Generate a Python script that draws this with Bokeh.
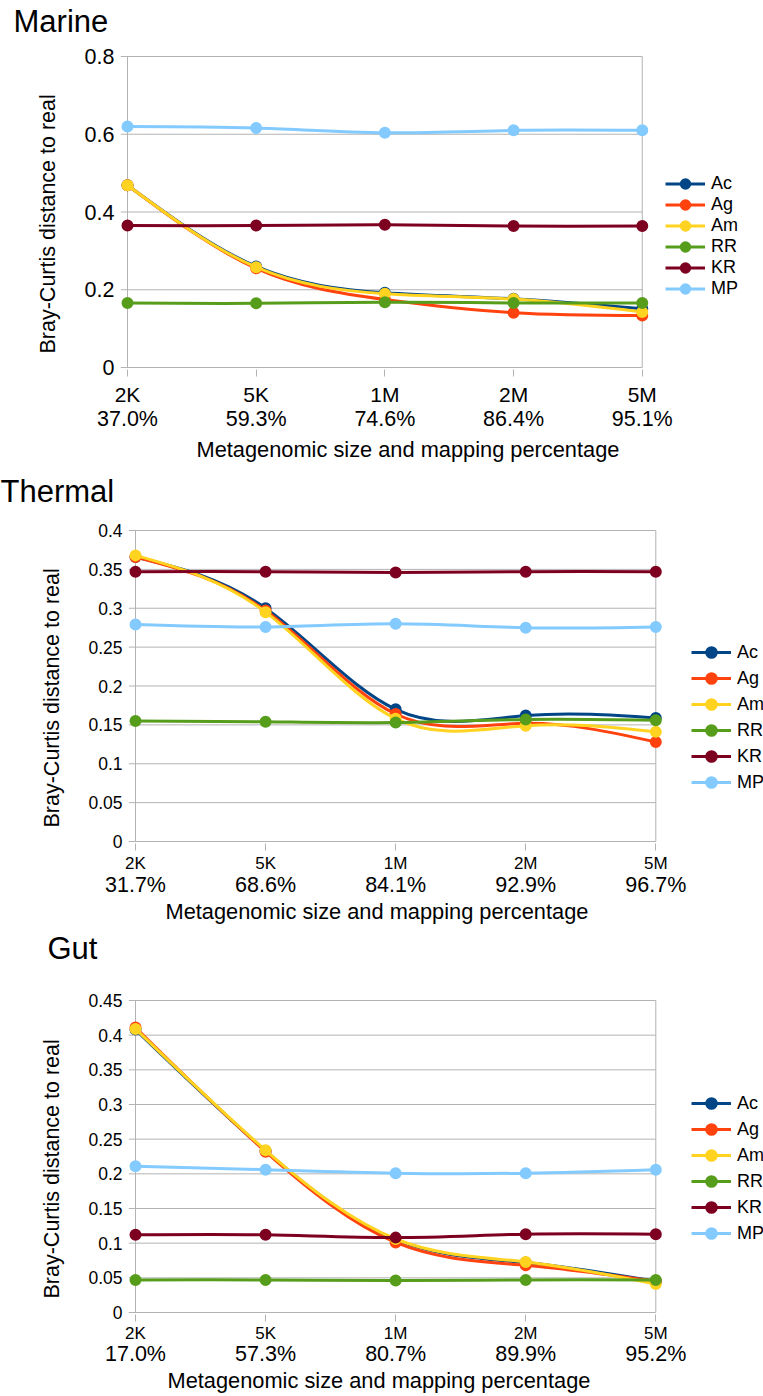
import numpy as np
from bokeh.embed import file_html
from bokeh.layouts import column
from bokeh.models import (FixedTicker, Legend, LegendItem, LinearAxis,
                          NumeralTickFormatter, Range1d, Title)
from bokeh.plotting import figure
from bokeh.resources import INLINE

FONT = "Liberation Sans"
GRID = "#b3b3b3"

# ---- data -------------------------------------------------------------
sizes = ["2K", "5K", "1M", "2M", "5M"]
methods = ["Ac", "Ag", "Am", "RR", "KR", "MP"]
method_colors = ["#004586", "#ff420e", "#ffd320", "#579d1c", "#7e0021", "#83caff"]

marine_mapping = ["37.0%", "59.3%", "74.6%", "86.4%", "95.1%"]
marine_ac = [0.469, 0.260, 0.192, 0.177, 0.151]
marine_ag = [0.469, 0.255, 0.175, 0.141, 0.134]
marine_am = [0.469, 0.258, 0.190, 0.176, 0.143]
marine_rr = [0.166, 0.165, 0.168, 0.166, 0.166]
marine_kr = [0.365, 0.365, 0.367, 0.364, 0.364]
marine_mp = [0.620, 0.616, 0.604, 0.610, 0.610]
marine_yticks = [0, 0.2, 0.4, 0.6, 0.8]

thermal_mapping = ["31.7%", "68.6%", "84.1%", "92.9%", "96.7%"]
thermal_ac = [0.366, 0.300, 0.170, 0.162, 0.159]
thermal_ag = [0.366, 0.297, 0.164, 0.152, 0.128]
thermal_am = [0.368, 0.295, 0.158, 0.149, 0.141]
thermal_rr = [0.155, 0.154, 0.153, 0.157, 0.156]
thermal_kr = [0.347, 0.347, 0.346, 0.347, 0.347]
thermal_mp = [0.279, 0.276, 0.280, 0.275, 0.276]
thermal_yticks = [0, 0.05, 0.1, 0.15, 0.2, 0.25, 0.3, 0.35, 0.4]

gut_mapping = ["17.0%", "57.3%", "80.7%", "89.9%", "95.2%"]
gut_ac = [0.408, 0.233, 0.105, 0.072, 0.045]
gut_ag = [0.411, 0.232, 0.101, 0.068, 0.045]
gut_am = [0.409, 0.234, 0.106, 0.073, 0.041]
gut_rr = [0.047, 0.047, 0.046, 0.047, 0.047]
gut_kr = [0.112, 0.112, 0.108, 0.113, 0.113]
gut_mp = [0.211, 0.206, 0.201, 0.201, 0.206]
gut_yticks = [0, 0.05, 0.1, 0.15, 0.2, 0.25, 0.3, 0.35, 0.4, 0.45]


def spline_segments(ys):
    """Natural cubic spline through the points, returned as Bezier segments."""
    y = np.asarray(ys, dtype=float)
    n = len(y)
    A = np.zeros((n, n))
    r = np.zeros(n)
    A[0, 0] = A[-1, -1] = 1.0
    for i in range(1, n - 1):
        A[i, i - 1], A[i, i], A[i, i + 1] = 1.0, 4.0, 1.0
        r[i] = 6.0 * (y[i + 1] - 2.0 * y[i] + y[i - 1])
    m = np.linalg.solve(A, r)
    x0 = np.arange(n - 1, dtype=float)
    x1 = x0 + 1.0
    dy = y[1:] - y[:-1]
    d0 = dy - (2.0 * m[:-1] + m[1:]) / 6.0
    d1 = dy + (m[:-1] + 2.0 * m[1:]) / 6.0
    return dict(x0=x0, y0=y[:-1], x1=x1, y1=y[1:],
                cx0=x0 + 1.0 / 3.0, cy0=y[:-1] + d0 / 3.0,
                cx1=x1 - 1.0 / 3.0, cy1=y[1:] - d1 / 3.0)


def make_panel(title, mapping, series, yticks, g):
    W, H = 763, g["height"]
    padx, pady = 7, 2
    n = len(sizes)
    last = n - 1
    ymax = yticks[-1]
    ux = (g["x_last"] - g["x_first"]) / last
    uy = (g["y_zero"] - g["y_top"]) / ymax

    # the plot area runs to the right edge so the key beside the chart is not clipped
    p = figure(width=W, height=H, output_backend="svg", toolbar_location=None,
               x_range=Range1d(-padx / ux, last + (W - g["x_last"]) / ux),
               y_range=Range1d(-pady / uy, ymax + pady / uy),
               x_axis_type=None, y_axis_type=None,
               min_border_left=round(g["x_first"] - padx),
               min_border_right=0,
               min_border_top=round(g["y_top"] - pady),
               min_border_bottom=round(H - g["y_zero"] - pady))
    p.frame_align = False
    p.outline_line_color = None
    p.background_fill_color = "white"
    p.border_fill_color = "white"

    # empty band between the heading and the plot area, then the heading
    gap = LinearAxis(ticker=FixedTicker(ticks=[last + 0.5]),
                     major_label_overrides={last + 0.5: ""},
                     axis_line_color=None, major_tick_line_color="white",
                     minor_tick_line_color=None, major_tick_in=0,
                     major_tick_out=g["title_gap"], minor_tick_in=0, minor_tick_out=0,
                     major_label_standoff=0, major_label_text_font_size="0px")
    p.add_layout(gap, "above")
    heading = Title(text=title, align="left", vertical_align="bottom",
                    offset=g["title_offset"], standoff=0, text_font=FONT,
                    text_font_size="31px", text_font_style="normal", text_color="#000000")
    p.add_layout(heading, "above")

    # y axis: tick labels, with its title set slightly below the middle
    yaxis = LinearAxis(ticker=FixedTicker(ticks=yticks),
                       formatter=NumeralTickFormatter(format="0.[00]"),
                       axis_line_color=None, major_tick_line_color=None,
                       minor_tick_line_color=None, major_tick_in=0, major_tick_out=0,
                       major_label_standoff=6)
    yaxis.major_label_text_font = FONT
    yaxis.major_label_text_font_size = g["ytick_size"]
    yaxis.major_label_text_color = "#000000"
    p.add_layout(yaxis, "left")
    ylabel = Title(text="Bray-Curtis distance to real", align="left",
                   vertical_align="bottom", offset=16, standoff=g["ylabel_standoff"],
                   text_font=FONT, text_font_size="21.5px", text_font_style="normal",
                   text_color="#000000")
    p.add_layout(ylabel, "left")

    # x axis: sample size with tick marks, mapping percentage beneath
    ticks = list(range(n))
    size_axis = LinearAxis(ticker=FixedTicker(ticks=ticks),
                           major_label_overrides={i: s for i, s in enumerate(sizes)},
                           axis_line_color=None, major_tick_line_color=GRID,
                           minor_tick_line_color=None, major_tick_in=0, major_tick_out=7,
                           major_label_standoff=g["size_standoff"])
    size_axis.major_label_text_font = FONT
    size_axis.major_label_text_font_size = g["size_font"]
    size_axis.major_label_text_color = "#000000"
    p.add_layout(size_axis, "below")

    pct_axis = LinearAxis(ticker=FixedTicker(ticks=ticks),
                          major_label_overrides={i: s for i, s in enumerate(mapping)},
                          axis_line_color=None, major_tick_line_color=None,
                          minor_tick_line_color=None, major_tick_in=0, major_tick_out=0,
                          major_label_standoff=g["pct_standoff"])
    pct_axis.major_label_text_font = FONT
    pct_axis.major_label_text_font_size = "21.5px"
    pct_axis.major_label_text_color = "#000000"
    p.add_layout(pct_axis, "below")

    xlabel = Title(text="Metagenomic size and mapping percentage", align="left",
                   vertical_align="top", offset=g["xlabel_offset"],
                   standoff=g["xlabel_standoff"], text_font=FONT, text_font_size="21.8px",
                   text_font_style="normal", text_color="#000000")
    p.add_layout(xlabel, "below")

    # grid lines (with a short outward tick on the left) and the frame sides
    x_start = p.x_range.start
    p.segment(x0=[x_start] * len(yticks), y0=yticks, x1=[last] * len(yticks), y1=yticks,
              line_color=GRID, line_width=1)
    p.segment(x0=[0, last], y0=[0, 0], x1=[0, last], y1=[ymax, ymax],
              line_color=GRID, line_width=1)

    items = []
    for name, color, ys in zip(methods, method_colors, series):
        p.bezier(line_color=color, line_width=3, **spline_segments(ys))
        key_line = p.line(x=ticks, y=ys, line_color=color, line_width=3, visible=False)
        dot_r = p.scatter(x=ticks, y=ys, size=9, fill_color=color, line_color=color,
                          line_width=3)
        items.append(LegendItem(label=name, renderers=[key_line, dot_r]))

    legend = Legend(items=items, location=g["legend_loc"], glyph_width=40,
                    glyph_height=g["key_height"], label_height=20,
                    spacing=g["legend_spacing"], label_standoff=6,
                    padding=0, margin=0, border_line_color=None, background_fill_alpha=0,
                    inactive_fill_alpha=0,
                    label_text_font=FONT, label_text_font_size="18px",
                    label_text_color="#000000")
    p.add_layout(legend)
    return p


marine = make_panel("Marine", marine_mapping,
                    [marine_ac, marine_ag, marine_am, marine_rr, marine_kr, marine_mp],
                    marine_yticks,
                    dict(height=468, x_first=126.7, x_last=641.7, y_top=55.7, y_zero=367.3,
                         title_offset=-107, title_gap=16, ylabel_standoff=44,
                         ytick_size="21.5px", size_font="21px", size_standoff=6,
                         pct_standoff=-2, xlabel_offset=76, xlabel_standoff=7,
                         legend_loc=(545, 70), key_height=21, legend_spacing=0))

thermal = make_panel("Thermal", thermal_mapping,
                     [thermal_ac, thermal_ag, thermal_am, thermal_rr, thermal_kr, thermal_mp],
                     thermal_yticks,
                     dict(height=460, x_first=135, x_last=655.3, y_top=62, y_zero=373.3,
                          title_offset=-128, title_gap=20, ylabel_standoff=43,
                          ytick_size="17.5px", size_font="17px", size_standoff=3,
                          pct_standoff=-3, xlabel_offset=37, xlabel_standoff=-1,
                          legend_loc=(563, 49), key_height=24, legend_spacing=2))

gut = make_panel("Gut", gut_mapping,
                 [gut_ac, gut_ag, gut_am, gut_rr, gut_kr, gut_mp],
                 gut_yticks,
                 dict(height=468, x_first=135, x_last=655.3, y_top=72.3, y_zero=383.7,
                      title_offset=-81, title_gap=33, ylabel_standoff=43,
                      ytick_size="17.5px", size_font="17px", size_standoff=2,
                      pct_standoff=-4, xlabel_offset=39, xlabel_standoff=-1,
                      legend_loc=(563, 69), key_height=24, legend_spacing=2))

layout = column(marine, thermal, gut, spacing=0)
open("out.html", "w").write(file_html(layout, INLINE))
